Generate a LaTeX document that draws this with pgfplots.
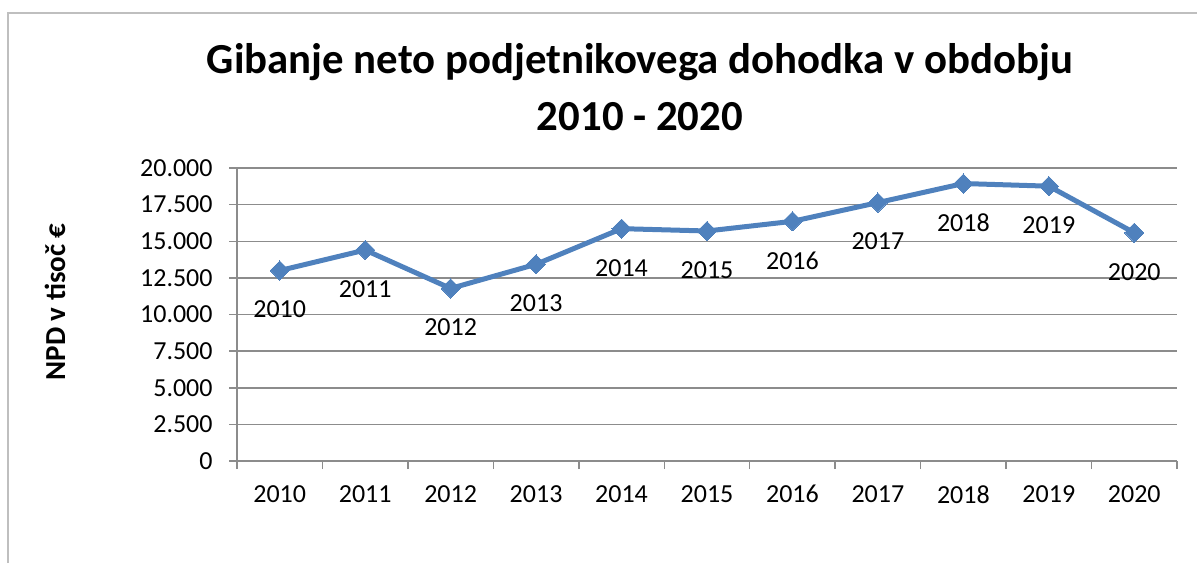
\documentclass[border=0pt]{standalone}
\usepackage{pgfplots}
\pgfplotsset{compat=1.18}
\usepackage{pgfplotstable}
\usepackage{fontspec}
\setmainfont{Carlito}
\definecolor{linieblue}{HTML}{4F81BD}
\definecolor{gridgray}{HTML}{8C8C8C}
\definecolor{framegray}{HTML}{BFBFBF}

\pgfplotstableread{
idx leto npd
0 2010 13000
1 2011 14400
2 2012 11780
3 2013 13430
4 2014 15860
5 2015 15700
6 2016 16360
7 2017 17640
8 2018 18940
9 2019 18760
10 2020 15580
}\npdtable

\begin{document}
\begin{tikzpicture}
\useasboundingbox (0,0) rectangle (598.5pt,281.5pt);
% okvir grafikona
\draw[framegray, line width=0.8pt] (4pt,0) -- (4pt,275pt) -- (598.5pt,275pt);
\begin{axis}[
    at={(118.5pt,51pt)}, anchor=south west,
    scale only axis,
    width=470pt, height=146.5pt,
    xmin=-0.5, xmax=10.5,
    ymin=0, ymax=20000,
    axis lines*=left,
    axis line style={gridgray, line width=0.75pt},
    xtick={0,...,10},
    xticklabels={2010,2011,2012,2013,2014,2015,2016,2017,2018,2019,2020},
    major x tick style={draw=none},
    minor xtick={-0.5,0.5,...,10.5},
    minor tick length=4pt,
    minor x tick style={gridgray, line width=0.75pt},
    ytick={0,2500,...,20000},
    ymajorgrids=true,
    grid style={gridgray, line width=0.75pt},
    tick align=outside,
    major tick length=4pt,
    y tick style={gridgray, line width=0.75pt},
    scaled y ticks=false,
    /pgf/number format/assume math mode=true,
    yticklabel style={/pgf/number format/1000 sep={.}, font=\fontsize{13}{15}\selectfont, anchor=east, inner sep=0pt, xshift=-8pt},
    xticklabel style={font=\fontsize{13}{15}\selectfont, anchor=north, inner sep=0pt, yshift=-8pt},
    title={Gibanje neto podjetnikovega dohodka v obdobju\\2010 - 2020},
    title style={at={(0.4287,1.385)}, anchor=north, align=center, inner sep=0pt,
        font=\fontsize{21.4}{28.5}\selectfont\bfseries},
    ylabel={NPD v tisoč €},
    ylabel style={at={(-0.1936,0.543)}, anchor=center, inner sep=0pt,
        font=\fontsize{14.5}{16}\selectfont\bfseries},
    clip=false,
]
\addplot[linieblue, line width=2.5pt, mark=square*, mark size=3.4pt,
    mark options={solid, rotate=45, fill=linieblue, draw=linieblue, line width=0pt},
    point meta=explicit symbolic,
    nodes near coords,
    nodes near coords style={font=\fontsize{13}{15}\selectfont, text=black, anchor=center, yshift=-19.5pt}]
    table[x=idx, y=npd, meta=leto] {\npdtable};
\end{axis}
\end{tikzpicture}
\end{document}
